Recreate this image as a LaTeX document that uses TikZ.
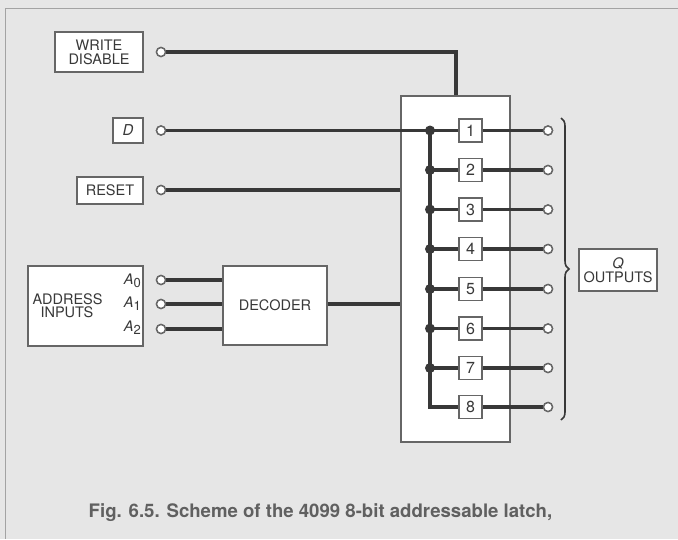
\documentclass[tikz,border=0pt]{standalone}
\usepackage{fontspec}
\setmainfont{TeX Gyre Heros}
\usetikzlibrary{positioning,calc,decorations.pathreplacing}
\definecolor{scan}{HTML}{E6E6E6}
\definecolor{ink}{HTML}{383838}
\definecolor{frameink}{HTML}{666666}
\tikzset{
  lbox/.style={draw=frameink,fill=white,line width=1.8pt,inner sep=0pt,
    align=center,text=ink,font=\fontsize{14.5}{15}\selectfont},
  cell/.style={lbox,minimum width=23pt,minimum height=23pt,
    font=\fontsize{16}{16}\selectfont},
  pin/.style={circle,draw=frameink,fill=white,line width=1.4pt,
    minimum size=9pt,inner sep=0pt},
  sig/.style={draw=ink,line width=3.4pt},
  jdot/.style={circle,fill=ink,inner sep=0pt,minimum size=10pt},
  alab/.style={text=ink,font=\fontsize{14.5}{15}\selectfont\itshape,inner sep=0pt},
}
\newcommand{\addr}[1]{A\raisebox{-3pt}{\upshape\fontsize{13}{13}\selectfont #1}}
\begin{document}
\begin{tikzpicture}[x=1pt,y=-1pt]
  \fill[scan] (0,0) rectangle (678,539);
  \useasboundingbox (0,0) rectangle (678,539);
  \draw[frameink!60,line width=1pt] (5,539) -- (5,8) -- (678,8);
  % input boxes
  \node[lbox,minimum width=88pt,minimum height=40pt] (wdbox) at (99,52)
    {WRITE\\[-1pt]DISABLE};
  \node[lbox,minimum width=30pt,minimum height=25pt,font=\fontsize{15}{15}\selectfont\itshape]
    (dbox) at (128,130.5) {D};
  \node[lbox,minimum width=66pt,minimum height=27pt] (rstbox) at (110,190.5) {RESET};
  \node[lbox,minimum width=115pt,minimum height=80pt,text width=100pt,align=left]
    (addrbox) at (85.5,306) {\hspace*{-3pt}ADDRESS\\[-2pt]\hspace*{5pt}INPUTS};
  \node[lbox,minimum width=104pt,minimum height=79pt] (decbox) at (275,305.5) {DECODER};
  \node[lbox,minimum width=109pt,minimum height=346pt] (latch) at (455.5,269) {};
  \node[lbox,minimum width=78pt,minimum height=42pt,font=\fontsize{14.5}{14}\selectfont]
    (qbox) at (618,270) {\textit{Q}\\OUTPUTS};
  % address labels
  \node[alab,anchor=east] (a0lab) at (141,281) {\addr{0}};
  \node[alab,anchor=east] (a1lab) at (141,304) {\addr{1}};
  \node[alab,anchor=east] (a2lab) at (141,328) {\addr{2}};
  % pins
  \node[pin] (wdpin) at (161,52) {};
  \node[pin] (dpin) at (161,130.5) {};
  \node[pin] (rstpin) at (161,190) {};
  \node[pin] (a0pin) at (161,280) {};
  \node[pin] (a1pin) at (161,304) {};
  \node[pin] (a2pin) at (161,329) {};
  \coordinate (wdturn) at (456,52);
  % connections
  \draw[sig] (wdpin) -- (wdturn) -- (wdturn |- latch.north);
  \draw[sig] (rstpin) -- (rstpin -| latch.west);
  \foreach \a in {a0,a1,a2}
    \draw[sig] (\a pin) -- (\a pin -| decbox.west);
  \draw[sig] (decbox.east |- a1pin) -- (a1pin -| latch.west);
  % latch cells
  \foreach \i/\y in {1/130.5,2/170,3/209.5,4/249,5/289,6/328.5,7/368,8/407}{
    \node[cell] (c\i) at (470.5,\y) {\i};
    \coordinate (j\i) at (430,\y);
    \node[pin] (q\i) at (548,\y) {};
    \draw[sig] (j\i) -- (c\i);
    \draw[sig] (c\i) -- (q\i);
  }
  \draw[sig] (dpin) -- (j1);
  \draw[sig] (j1) -- (j8) -- (c8);
  \foreach \i in {1,...,7}
    \node[jdot] at (j\i) {};
  % redraw pins over lines
  \foreach \p in {wdpin,dpin,rstpin,a0pin,a1pin,a2pin,q1,q2,q3,q4,q5,q6,q7,q8}
    \node[pin] at (\p) {};
  \draw[ink,line width=1.6pt,decorate,decoration={brace,amplitude=8pt}]
    (561,118) -- (561,420);
  % caption
  \node[text=ink!80,font=\fontsize{18.6}{19}\selectfont\bfseries,anchor=base]
    (caption) at (320.5,517) {Fig. 6.5. Scheme of the 4099 8-bit addressable latch,};
\end{tikzpicture}
\end{document}
